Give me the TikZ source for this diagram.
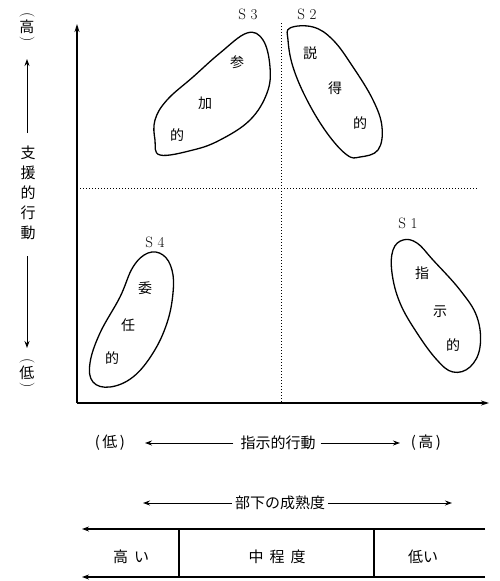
\documentclass[tikz,border=0pt]{standalone}
\usepackage{fontspec}
\newfontfamily\jp{Noto Sans CJK JP}
\usetikzlibrary{arrows.meta}
\begin{document}
\begin{tikzpicture}[x=1pt,y=-1pt,
  jt/.style={font=\jp\fontsize{14}{14}\selectfont, inner sep=0pt},
  lab/.style={font=\jp\fontsize{15}{15}\selectfont, inner sep=0pt},
  vlab/.style={font=\jp\fontsize{15}{20}\selectfont, inner sep=0pt, align=center},
  par/.style={font=\fontsize{15}{15}\selectfont, inner sep=0pt, rotate=-90},
  sl/.style={font=\fontsize{15}{15}\selectfont, inner sep=0pt},
  blob/.style={line width=1.3pt},
  ax/.style={line width=1.3pt},
  arr/.style={line width=0.9pt,-{Stealth[length=7pt,width=5pt]}},
  dot/.style={line width=0.8pt, dash pattern=on 1pt off 2pt}]
\useasboundingbox (0,0) rectangle (499,581);
\fill[white] (0,0) rectangle (499,581);

% axes
\coordinate (o) at (77,403);
\coordinate (yt) at (77,24);
\coordinate (xr) at (489,403);
\draw[ax,-{Stealth[length=8pt,width=5pt]}] (o) -- (yt);
\draw[ax,-{Stealth[length=8pt,width=5pt]}] (o) -- (xr);

% dotted quadrant lines
\coordinate (hl) at (80,188);
\coordinate (hr) at (477,188);
\coordinate (vt) at (281,23);
\coordinate (vb) at (281,402);
\draw[dot] (hl) -- (hr);
\draw[dot] (vt) -- (vb);

% S3 blob
\draw[blob] plot[smooth cycle, tension=0.65] coordinates {
 (247,33) (263,40) (270,67) (267,93) (250,120) (220,140) (193,150)
 (160,155) (155,140) (155,120) (167,100) (193,77) (220,53)};
% S2 blob
\draw[blob] plot[smooth cycle, tension=0.65] coordinates {
 (290,28) (313,27) (333,40) (353,67) (373,100) (382,127) (378,150)
 (360,157) (347,155) (327,133) (307,100) (293,67) (288,40)};
% S4 blob
\draw[blob] plot[smooth cycle, tension=0.65] coordinates {
 (148,253) (163,255) (172,270) (173,293) (167,323) (153,353) (133,377)
 (110,387) (93,382) (90,363) (100,333) (120,297) (133,267)};
% S1 blob
\draw[blob] plot[smooth cycle, tension=0.65] coordinates {
 (403,240) (417,243) (433,260) (460,290) (477,317) (480,347) (470,367)
 (453,372) (437,360) (417,333) (400,303) (392,273) (393,250)};

% S labels
\node[sl] (s3) at (248,14) {S 3};
\node[sl] (s2) at (307,14) {S 2};
\node[sl] (s4) at (155,242) {S 4};
\node[sl] (s1) at (408,223) {S 1};

% blob texts
\node[jt] (a1) at (237,62) {参};
\node[jt] (a2) at (205,103) {加};
\node[jt] (a3) at (177,135) {的};
\node[jt] (b1) at (310,53) {説};
\node[jt] (b2) at (335,88) {得};
\node[jt] (b3) at (360,123) {的};
\node[jt] (c1) at (145,288) {委};
\node[jt] (c2) at (128,325) {任};
\node[jt] (c3) at (112,358) {的};
\node[jt] (d1) at (422,273) {指};
\node[jt] (d2) at (440,312) {示};
\node[jt] (d3) at (453,345) {的};

% left vertical label
\node[par] (hp1) at (27,15) {(};
\node[lab] (hi) at (27,27) {高};
\node[par] (hp2) at (27,39) {)};
\coordinate (ua) at (27,59);
\coordinate (ub) at (27,133);
\draw[arr] (ub) -- (ua);
\node[vlab] (sup) at (28,193) {支\\援\\的\\行\\動};
\coordinate (da) at (27,256);
\coordinate (db) at (27,348);
\draw[arr] (da) -- (db);
\node[par] (lp1) at (27,361) {(};
\node[lab] (lo) at (27,373) {低};
\node[par] (lp2) at (27,385) {)};

% bottom axis label
\node[lab] (blo) at (110,443) {(\,低\,)};
\node[lab] (bt) at (278,443) {指示的行動};
\node[lab] (bhi) at (426,443) {(\,高\,)};
\coordinate (bla) at (145,443);
\coordinate (bra) at (400,443);
\draw[arr] ([xshift=-7pt]bt.west) -- (bla);
\draw[arr] ([xshift=5pt]bt.east) -- (bra);

% maturity label
\node[lab] (mt) at (280,503) {部下の成熟度};
\coordinate (mla) at (143,503);
\coordinate (mra) at (452,503);
\draw[arr] ([xshift=-3pt]mt.west) -- (mla);
\draw[arr] ([xshift=3pt]mt.east) -- (mra);

% maturity bar
\coordinate (tl) at (82,529);
\coordinate (tr) at (485,529);
\coordinate (bl) at (82,577);
\coordinate (br) at (485,577);
\draw[arr,line width=1.1pt] (tr) -- (tl);
\draw[arr,line width=1.1pt] (br) -- (bl);
\coordinate (p1t) at (179,529);
\coordinate (p1b) at (179,577);
\coordinate (p2t) at (374,529);
\coordinate (p2b) at (374,577);
\draw[line width=1.1pt] (p1t) -- (p1b);
\draw[line width=1.1pt] (p2t) -- (p2b);
\node[lab] (m1) at (131,557) {高\hspace{6pt}い};
\node[lab] (m2) at (277,557) {中\hspace{6pt}程\hspace{6pt}度};
\node[lab] (m3) at (423,557) {低い};
\end{tikzpicture}
\end{document}
